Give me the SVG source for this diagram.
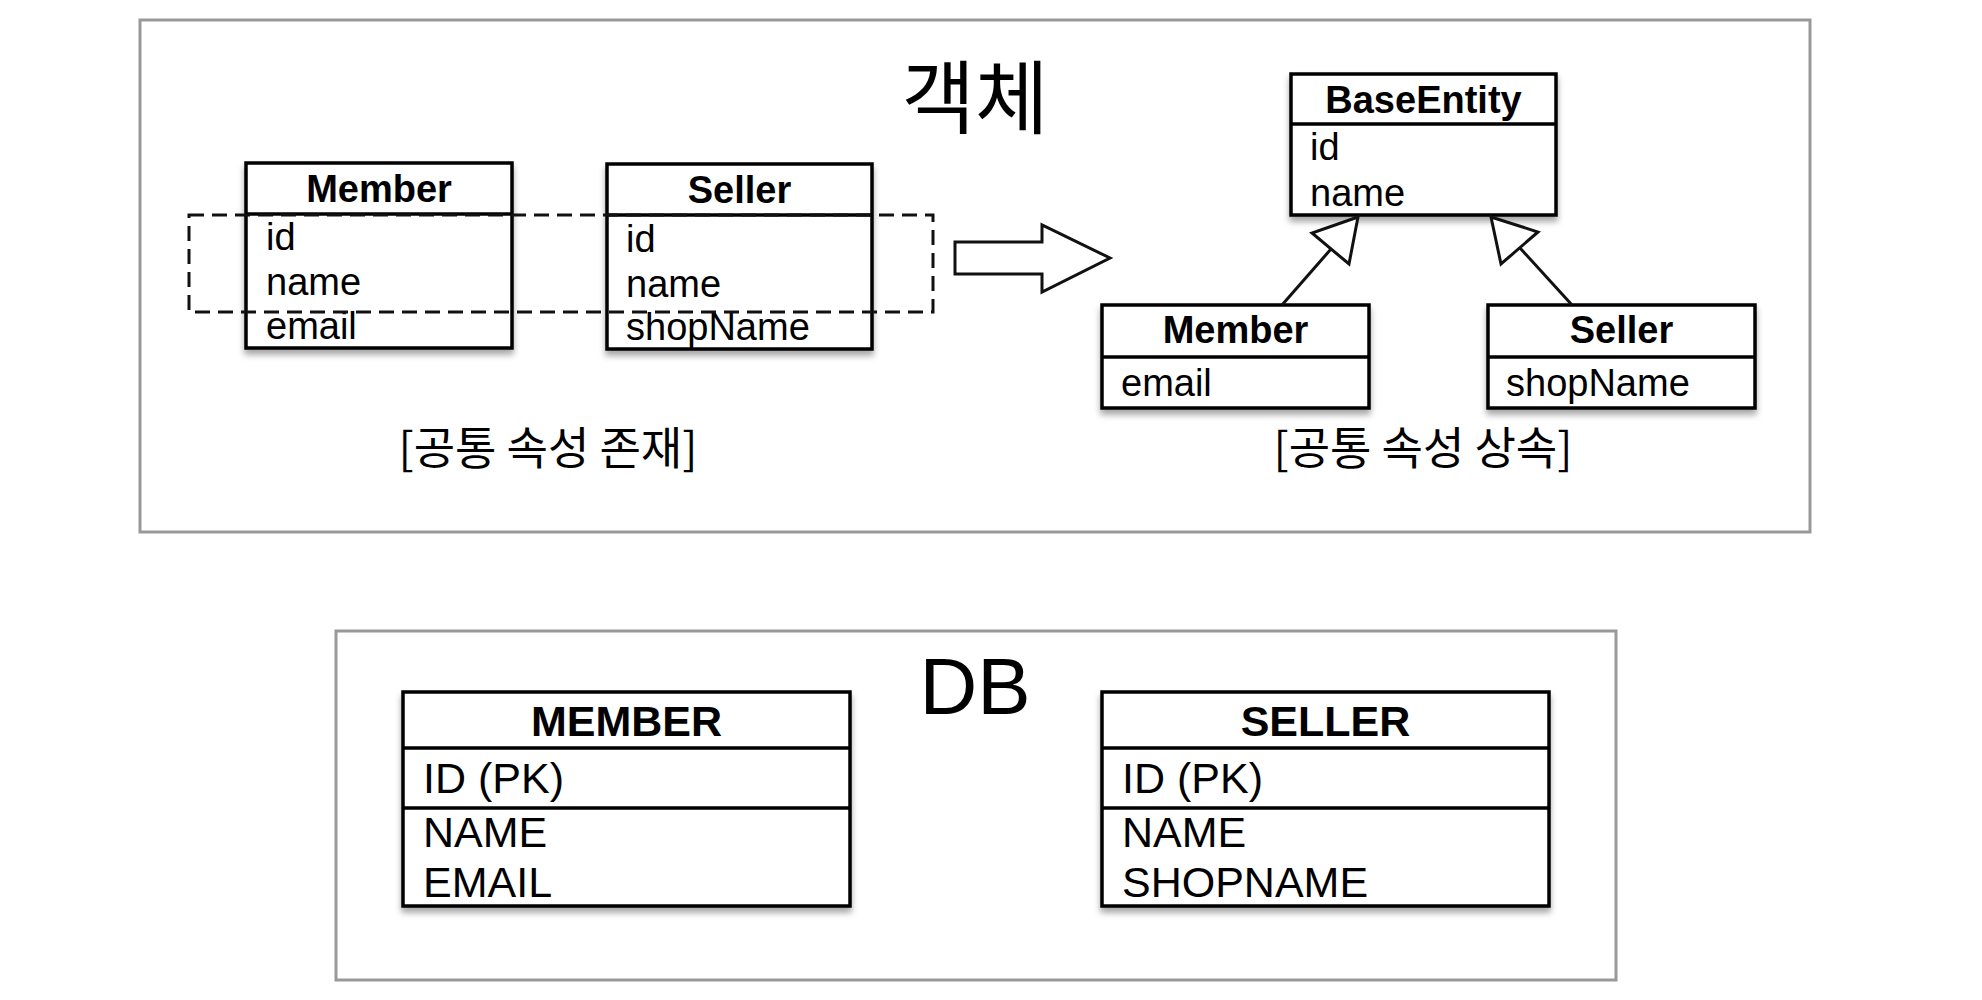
<svg xmlns="http://www.w3.org/2000/svg" width="1982" height="1000" viewBox="0 0 1982 1000">
<style>
.frame{fill:#fff;stroke:#999;stroke-width:3}
.box{fill:#fff;stroke:#000;stroke-width:3.5;filter:url(#sh)}
.sep{stroke:#000;stroke-width:3.5}
.hd{font-family:"Liberation Sans",Arial,sans-serif;font-weight:bold;font-size:38px;text-anchor:middle;fill:#000}
.at{font-family:"Liberation Sans",Arial,sans-serif;font-size:38px;fill:#000}
.dbh{font-family:"Liberation Sans",Arial,sans-serif;font-weight:bold;font-size:43px;text-anchor:middle;fill:#000}
.dba{font-family:"Liberation Sans",Arial,sans-serif;font-size:43px;fill:#000}
.ko{font-family:"Noto Sans CJK KR",sans-serif;font-weight:normal;fill:#000;text-anchor:middle}
.line{stroke:#111;stroke-width:3;fill:none}
.tri{stroke:#111;stroke-width:3;fill:#fff}
</style>
<defs>
<filter id="sh" x="-10%" y="-10%" width="120%" height="140%">
<feDropShadow dx="0" dy="5" stdDeviation="3" flood-color="#000" flood-opacity="0.35"/>
</filter>
</defs>
<rect width="1982" height="1000" fill="#fff"/>

<g id="frame-object">
<rect class="frame" x="140" y="20" width="1670" height="512"/>
<text class="ko" x="975" y="127" font-size="80">객체</text>
<text class="ko" x="548" y="465" font-size="45">[공통 속성 존재]</text>
<text class="ko" x="1423" y="465" font-size="45">[공통 속성 상속]</text>
</g>

<g id="frame-db">
<rect class="frame" x="336" y="631" width="1280" height="349"/>
<text x="975" y="714" font-family="Liberation Sans,Arial,sans-serif" font-size="80" text-anchor="middle" fill="#000">DB</text>
</g>

<g id="member-obj">
<rect class="box" x="246" y="163" width="266" height="185"/>
<line class="sep" x1="246" y1="214" x2="512" y2="214"/>
<text class="hd" x="379" y="202">Member</text>
<text class="at" x="266" y="250">id</text>
<text class="at" x="266" y="295">name</text>
<text class="at" x="266" y="339">email</text>
</g>

<g id="seller-obj">
<rect class="box" x="607" y="164" width="265" height="185"/>
<line class="sep" x1="607" y1="215" x2="872" y2="215"/>
<text class="hd" x="739.5" y="203">Seller</text>
<text class="at" x="626" y="252">id</text>
<text class="at" x="626" y="297">name</text>
<text class="at" x="626" y="340">shopName</text>
</g>

<g id="common-attrs">
<rect x="189" y="215" width="744" height="97" fill="none" stroke="#111" stroke-width="3" stroke-dasharray="15 8"/>
</g>

<g id="baseentity">
<rect class="box" x="1291" y="74" width="265" height="141"/>
<line class="sep" x1="1291" y1="124" x2="1556" y2="124"/>
<text class="hd" x="1423.5" y="113">BaseEntity</text>
<text class="at" x="1310" y="160">id</text>
<text class="at" x="1310" y="206">name</text>
</g>

<g id="member-sub">
<rect class="box" x="1102" y="305" width="267" height="103"/>
<line class="sep" x1="1102" y1="357" x2="1369" y2="357"/>
<text class="hd" x="1235.5" y="343">Member</text>
<text class="at" x="1121" y="396">email</text>
</g>

<g id="seller-sub">
<rect class="box" x="1488" y="305" width="267" height="103"/>
<line class="sep" x1="1488" y1="357" x2="1755" y2="357"/>
<text class="hd" x="1621.5" y="343">Seller</text>
<text class="at" x="1506" y="396">shopName</text>
</g>

<g id="member-table">
<rect class="box" x="403" y="692" width="447" height="214"/>
<line class="sep" x1="403" y1="748" x2="850" y2="748"/>
<line class="sep" x1="403" y1="808" x2="850" y2="808"/>
<text class="dbh" x="626.5" y="736">MEMBER</text>
<text class="dba" x="423" y="793">ID (PK)</text>
<text class="dba" x="423" y="847">NAME</text>
<text class="dba" x="423" y="897">EMAIL</text>
</g>

<g id="seller-table">
<rect class="box" x="1102" y="692" width="447" height="214"/>
<line class="sep" x1="1102" y1="748" x2="1549" y2="748"/>
<line class="sep" x1="1102" y1="808" x2="1549" y2="808"/>
<text class="dbh" x="1325.5" y="736">SELLER</text>
<text class="dba" x="1122" y="793">ID (PK)</text>
<text class="dba" x="1122" y="847">NAME</text>
<text class="dba" x="1122" y="897">SHOPNAME</text>
</g>

<g id="connectors">
<polygon class="line" points="955,242 1042,242 1042,225 1110,258 1042,292 1042,274 955,274" stroke-linejoin="miter"/>
<line class="line" x1="1282" y1="305" x2="1331" y2="249"/>
<polygon class="tri" points="1358,217 1312,233 1349,264"/>
<line class="line" x1="1572" y1="305" x2="1520" y2="248"/>
<polygon class="tri" points="1491,217 1538,232 1501,264"/>
</g>
</svg>
